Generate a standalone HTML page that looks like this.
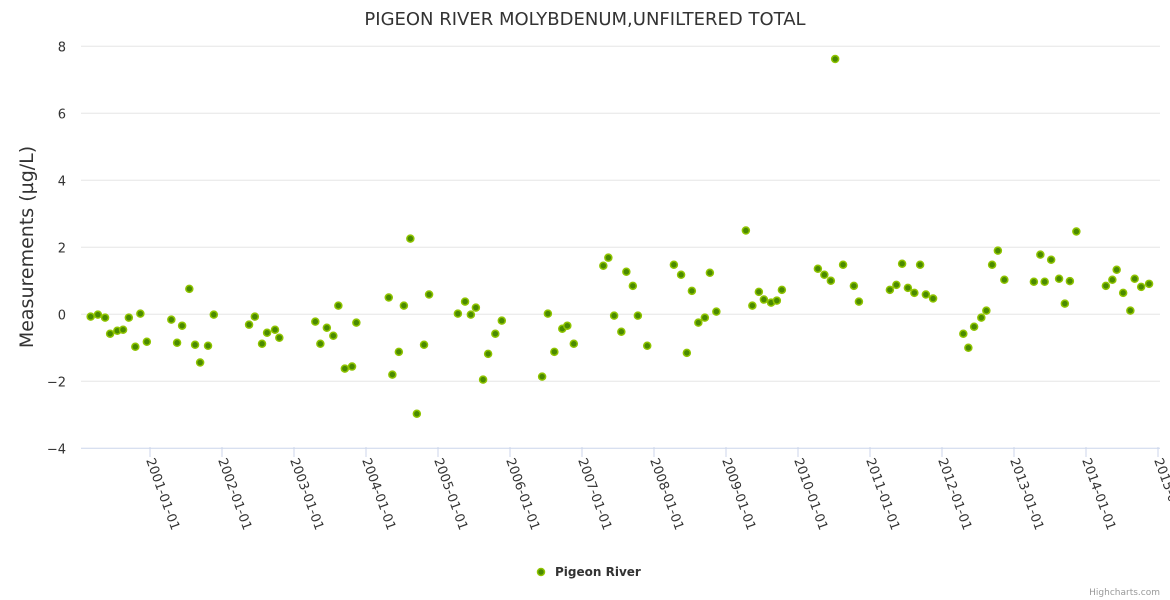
<!DOCTYPE html>
<html><head><meta charset="utf-8"><style>
body{margin:0;background:#fff;}
svg{display:block;font-family:"DejaVu Sans","Liberation Sans",sans-serif;}
</style></head><body>
<svg id="chart" width="1170" height="600" xmlns="http://www.w3.org/2000/svg">
<rect width="1170" height="600" fill="#fff"/>
<text x="585" y="25" text-anchor="middle" font-size="18" fill="#333">PIGEON RIVER MOLYBDENUM,UNFILTERED TOTAL</text>
<g id="grid"></g><g id="yticks"></g><g id="xticks"></g>
<text transform="translate(33,247) rotate(-90)" text-anchor="middle" font-size="19" fill="#333">Measurements (µg/L)</text>
<g id="points"></g>
<g>
<circle cx="541" cy="572" r="3.5" fill="#4a8a00" stroke="#8fc400" stroke-width="1.5"/>
<text x="555" y="576" font-size="12" font-weight="bold" fill="#333">Pigeon River</text></g>
<text x="1160" y="595" text-anchor="end" font-size="9" fill="#999">Highcharts.com</text>
</svg>
<script>
const years=[2000.19,2000.29,2000.39,2000.46,2000.56,2000.64,2000.72,2000.81,2000.88,2000.97,2001.31,2001.39,2001.46,2001.56,2001.64,2001.71,2001.82,2001.90,2002.39,2002.47,2002.57,2002.64,2002.75,2002.81,2003.31,2003.38,2003.47,2003.56,2003.63,2003.72,2003.82,2003.88,2004.33,2004.38,2004.47,2004.54,2004.63,2004.72,2004.82,2004.89,2005.29,2005.39,2005.47,2005.54,2005.64,2005.71,2005.81,2005.90,2006.46,2006.54,2006.63,2006.74,2006.81,2006.90,2007.31,2007.38,2007.46,2007.56,2007.63,2007.72,2007.79,2007.92,2008.29,2008.39,2008.47,2008.54,2008.63,2008.72,2008.79,2008.88,2009.29,2009.38,2009.47,2009.54,2009.64,2009.72,2009.79,2010.29,2010.38,2010.47,2010.53,2010.64,2010.79,2010.86,2011.29,2011.38,2011.46,2011.54,2011.63,2011.71,2011.79,2011.89,2012.31,2012.38,2012.46,2012.56,2012.63,2012.71,2012.79,2012.88,2013.29,2013.38,2013.44,2013.53,2013.64,2013.72,2013.79,2013.88,2014.29,2014.38,2014.44,2014.53,2014.63,2014.69,2014.78,2014.89];
const values=[-0.07,-0.01,-0.1,-0.58,-0.49,-0.46,-0.1,-0.97,0.02,-0.82,-0.16,-0.85,-0.34,0.76,-0.91,-1.44,-0.94,-0.01,-0.31,-0.07,-0.88,-0.55,-0.46,-0.7,-0.22,-0.88,-0.4,-0.64,0.26,-1.62,-1.56,-0.25,0.5,-1.8,-1.12,0.26,2.26,-2.97,-0.91,0.59,0.02,0.38,-0.01,0.2,-1.95,-1.18,-0.58,-0.19,-1.86,0.02,-1.12,-0.43,-0.34,-0.88,1.45,1.69,-0.04,-0.52,1.27,0.85,-0.04,-0.94,1.48,1.18,-1.15,0.7,-0.25,-0.1,1.24,0.08,2.5,0.26,0.67,0.44,0.35,0.41,0.73,1.36,1.18,1.0,7.62,1.48,0.85,0.38,0.73,0.88,1.51,0.79,0.64,1.48,0.59,0.47,-0.58,-1.0,-0.37,-0.1,0.11,1.48,1.9,1.03,0.97,1.78,0.97,1.63,1.06,0.32,0.99,2.47,0.85,1.03,1.33,0.64,0.11,1.06,0.82,0.91];
const yTicks=[-4,-2,0,2,4,6,8];
const xTickYears=[2001,2002,2003,2004,2005,2006,2007,2008,2009,2010,2011,2012,2013,2014,2015];
const xTickLabels=["2001-01-01","2002-01-01","2003-01-01","2004-01-01","2005-01-01","2006-01-01","2007-01-01","2008-01-01","2009-01-01","2010-01-01","2011-01-01","2012-01-01","2013-01-01","2014-01-01","2015-01-01"];
const NS="http://www.w3.org/2000/svg";
const X=y=>150+(y-2001)*72;
const Y=v=>314.3-v*33.5;
const L=81,R=1160;
function mk(t,a,p){const e=document.createElementNS(NS,t);for(const k in a)e.setAttribute(k,a[k]);p.appendChild(e);return e;}
const grid=document.getElementById('grid'),yt=document.getElementById('yticks'),xt=document.getElementById('xticks'),pts=document.getElementById('points');
yTicks.forEach(v=>{
 const g=mk('line',{x1:L,x2:R,y1:Y(v),y2:Y(v),stroke:v===-4?'#ccd6eb':'#e6e6e6','stroke-width':1},grid);
 
 
 const t=mk('text',{x:66,y:Y(v)+5,'text-anchor':'end','font-size':13,fill:'#333'},yt);
 t.textContent=v<0?'−'+(-v):String(v);
 
 
});
xTickYears.forEach((yr,i)=>{
 const x=X(yr);
 const l=mk('line',{x1:x,x2:x,y1:447,y2:457,stroke:'#ccd6eb'},xt);
 
 
 const t=mk('text',{x:0,y:0,'font-size':13,fill:'#333',transform:`translate(${x-4},${460}) rotate(70)`},xt);
 t.textContent=xTickLabels[i];
 
 
});
years.forEach((yr,i)=>{
 const c=mk('circle',{cx:X(yr)-1,cy:Y(values[i]),r:3.5,fill:'#4a8a00',stroke:'#8fc400','stroke-width':1.5},pts);
 
 
});
</script>
</body></html>
